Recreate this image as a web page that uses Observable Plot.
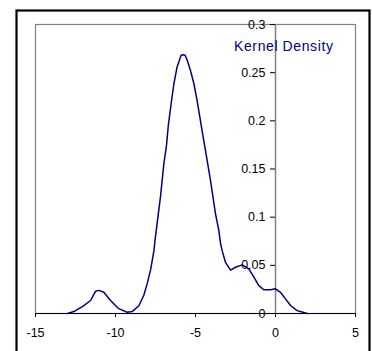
<!DOCTYPE html>
<html>
<head>
<meta charset="utf-8">
<script src="https://cdn.jsdelivr.net/npm/d3@7"></script>
<script src="https://cdn.jsdelivr.net/npm/@observablehq/plot@0.6"></script>
<style>
  html, body { margin: 0; padding: 0; background: #fff; }
  .series-label text { letter-spacing: 0.6px; }
</style>
</head>
<body>
<div id="chart"></div>
<script>
// Kernel density estimate, sampled along x
const kdeX = [-13.0, -12.6, -12.0, -11.56, -11.25, -11.04, -10.73, -10.31, -9.8, -9.27,
  -8.96, -8.54, -8.23, -8.02, -7.81, -7.6, -7.5, -7.19, -6.98, -6.81,
  -6.7, -6.52, -6.35, -6.15, -5.9, -5.77, -5.65, -5.52, -5.31, -5.1,
  -4.9, -4.69, -4.55, -4.375, -4.06, -3.75, -3.54, -3.44, -3.33, -3.125,
  -2.81, -2.5, -2.08, -1.67, -1.35, -1.04, -0.73, -0.31, 0, 0.31,
  0.625, 0.94, 1.35, 1.77, 2.0];
const kdeY = [0, 0.002, 0.008, 0.0135, 0.023, 0.024, 0.022, 0.0135, 0.005, 0.0013,
  0.002, 0.008, 0.019, 0.031, 0.045, 0.065, 0.08, 0.121, 0.155, 0.175,
  0.195, 0.218, 0.2385, 0.256, 0.268, 0.2686, 0.268, 0.263, 0.252, 0.2385,
  0.221, 0.2, 0.186, 0.169, 0.138, 0.1035, 0.086, 0.073, 0.065, 0.053,
  0.045, 0.048, 0.0505, 0.0464, 0.0377, 0.029, 0.0246, 0.0246, 0.0256, 0.022,
  0.0152, 0.0083, 0.003, 0.001, 0];

const xTicks = [-15, -10, -5, 0, 5];
const yTicks = [0, 0.05, 0.1, 0.15, 0.2, 0.25, 0.3];
const seriesLabel = "Kernel Density";

const points = kdeX.map((x, i) => ({x, y: kdeY[i]}));

const W = 372, H = 351;
const mL = 35, mR = 17, mT = 24, mB = 38;
const xDomain = [-15, 5];
const yDomain = [0, 0.3];
// horizontal offset that puts the y axis on x = 0
const yAxisShift = (0 - xDomain[0]) / (xDomain[1] - xDomain[0]) * (W - mL - mR);

const navy = "#000080";
const fmt = d => String(d);

const chart = Plot.plot({
  width: W,
  height: H,
  marginLeft: mL,
  marginRight: mR,
  marginTop: mT,
  marginBottom: mB,
  style: {fontFamily: "'Liberation Sans', Arial, sans-serif", fontSize: "12.5px", background: "#fff", color: "#000", overflow: "visible"},
  x: {domain: xDomain},
  y: {domain: yDomain},
  marks: [
    // outer chart border
    Plot.frame({stroke: "#000", strokeWidth: 2.2, insetLeft: -19, insetTop: -14, insetRight: -14, insetBottom: -45}),
    // plot area border
    Plot.frame({stroke: "#808080", strokeWidth: 1.2}),
    Plot.ruleX([0], {stroke: "#808080", strokeWidth: 1.5}),
    Plot.ruleY([0], {stroke: "#000", strokeWidth: 1.2}),
    Plot.axisX(xTicks, {tickSize: 4, tickPadding: 11, tickFormat: fmt, label: null, stroke: "#000"}),
    Plot.axisY(yTicks, {anchor: "left", dx: yAxisShift, tickSize: 5, tickPadding: 5, tickFormat: fmt, label: null, stroke: "#000"}),
    Plot.line(points, {x: "x", y: "y", stroke: navy, strokeWidth: 1.5, curve: "linear"}),
    Plot.text([seriesLabel], {frameAnchor: "top-right", textAnchor: "end", lineAnchor: "middle",
      dx: -22, dy: 22, fill: navy, fontSize: 14, text: d => d, className: "series-label"})
  ]
});
document.getElementById("chart").appendChild(chart);
</script>
</body>
</html>
